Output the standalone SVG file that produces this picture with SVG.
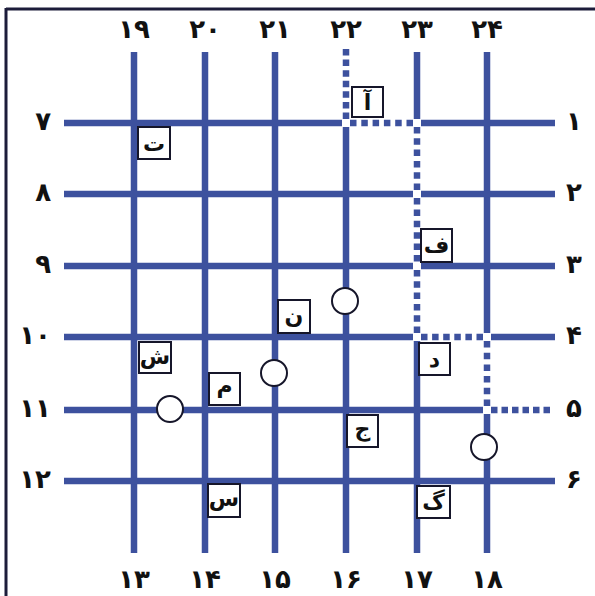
<svg xmlns="http://www.w3.org/2000/svg" width="595" height="596" viewBox="0 0 595 596">
<style>
.g{stroke:#3d519e;stroke-width:6.5;fill:none}
.w{stroke:#ffffff;stroke-width:8;fill:none}
.d{stroke:#3d519e;stroke-width:6.5;fill:none}
.box{fill:#ffffff;stroke:#16162a;stroke-width:2}
.c{fill:#ffffff;stroke:#16162a;stroke-width:2}
.lt{font-family:"DejaVu Sans",sans-serif;font-weight:bold;font-size:22px;fill:#111;text-anchor:middle}
.n{font-family:"DejaVu Sans",sans-serif;font-weight:bold;font-size:26px;fill:#111}
.m{text-anchor:middle}
.e{text-anchor:end}
.s{text-anchor:start}
</style>
<rect width="595" height="596" fill="#ffffff"/>
<g id="frame">
<line x1="6" y1="9" x2="595" y2="9" stroke="#1c1c3a" stroke-width="3"/>
<line x1="6" y1="8" x2="6" y2="596" stroke="#1c1c3a" stroke-width="3"/>
</g>
<g id="connectors">
<line class="g" x1="134" y1="52" x2="134" y2="553"/>
<line class="g" x1="205" y1="52" x2="205" y2="553"/>
<line class="g" x1="275" y1="52" x2="275" y2="553"/>
<line class="g" x1="346" y1="123" x2="346" y2="553"/>
<line class="g" x1="417" y1="52" x2="417" y2="553"/>
<line class="g" x1="487" y1="52" x2="487" y2="553"/>
<line class="g" x1="64" y1="123" x2="555" y2="123"/>
<line class="g" x1="64" y1="194" x2="555" y2="194"/>
<line class="g" x1="64" y1="266" x2="555" y2="266"/>
<line class="g" x1="64" y1="337" x2="555" y2="337"/>
<line class="g" x1="64" y1="410" x2="487" y2="410"/>
<line class="g" x1="64" y1="481" x2="555" y2="481"/>
<line class="w" x1="346" y1="45" x2="346" y2="127"/>
<line class="w" x1="342" y1="123" x2="421" y2="123"/>
<line class="w" x1="417" y1="119" x2="417" y2="341"/>
<line class="w" x1="413" y1="337" x2="491" y2="337"/>
<line class="w" x1="487" y1="333" x2="487" y2="414"/>
<line class="w" x1="483" y1="410" x2="560" y2="410"/>
<line class="d" x1="346" y1="49" x2="346" y2="119" stroke-dasharray="6.5 4.08"/>
<line class="d" x1="350" y1="123" x2="413" y2="123" stroke-dasharray="6.5 4.8"/>
<line class="d" x1="417" y1="127" x2="417" y2="190" stroke-dasharray="6.5 4.8"/>
<line class="d" x1="417" y1="198" x2="417" y2="262" stroke-dasharray="6.5 4.9"/>
<line class="d" x1="417" y1="270" x2="417" y2="333" stroke-dasharray="6.5 4.8"/>
<line class="d" x1="421" y1="337" x2="483" y2="337" stroke-dasharray="6.5 4.6"/>
<line class="d" x1="487" y1="341" x2="487" y2="406" stroke-dasharray="6.5 5.2"/>
<line class="d" x1="491" y1="410" x2="554" y2="410" stroke-dasharray="6.5 4"/>
</g>
<g id="col-labels-top">
<text class="n m" x="134" y="38">۱۹</text>
<text class="n m" x="205" y="38">۲۰</text>
<text class="n m" x="275" y="38">۲۱</text>
<text class="n m" x="346" y="38">۲۲</text>
<text class="n m" x="417" y="38">۲۳</text>
<text class="n m" x="487" y="38">۲۴</text>
</g>
<g id="col-labels-bottom">
<text class="n m" x="134" y="588">۱۳</text>
<text class="n m" x="205" y="588">۱۴</text>
<text class="n m" x="275" y="588">۱۵</text>
<text class="n m" x="346" y="588">۱۶</text>
<text class="n m" x="417" y="588">۱۷</text>
<text class="n m" x="487" y="588">۱۸</text>
</g>
<g id="row-labels-left">
<text class="n e" x="51" y="130">۷</text>
<text class="n e" x="51" y="201">۸</text>
<text class="n e" x="51" y="273">۹</text>
<text class="n e" x="51" y="344">۱۰</text>
<text class="n e" x="51" y="417">۱۱</text>
<text class="n e" x="51" y="488">۱۲</text>
</g>
<g id="row-labels-right">
<text class="n s" x="566" y="130">۱</text>
<text class="n s" x="566" y="201">۲</text>
<text class="n s" x="566" y="273">۳</text>
<text class="n s" x="566" y="344">۴</text>
<text class="n s" x="566" y="417">۵</text>
<text class="n s" x="566" y="488">۶</text>
</g>
<g id="node-alef"><rect class="box" x="352" y="87" width="31" height="30"/><text class="lt" x="367.5" y="110">آ</text></g>
<g id="node-te"><rect class="box" x="138" y="127" width="32" height="32"/><text class="lt" x="154" y="151">ت</text></g>
<g id="node-fe"><rect class="box" x="421" y="229" width="31" height="33"/><text class="lt" x="436.5" y="253">ف</text></g>
<g id="node-dal"><rect class="box" x="419" y="343" width="31" height="32"/><text class="lt" x="434.5" y="367">د</text></g>
<g id="node-nun"><rect class="box" x="278" y="300" width="32" height="33"/><text class="lt" x="294" y="323">ن</text></g>
<g id="node-shin"><rect class="box" x="139" y="342" width="32" height="31"/><text class="lt" x="155" y="364">ش</text></g>
<g id="node-mim"><rect class="box" x="209" y="373" width="31" height="32"/><text class="lt" x="224.5" y="393">م</text></g>
<g id="node-sin"><rect class="box" x="208" y="484" width="32" height="33"/><text class="lt" x="224" y="506">س</text></g>
<g id="node-jim"><rect class="box" x="347" y="415" width="31" height="32"/><text class="lt" x="362.5" y="436">ج</text></g>
<g id="node-gaf"><rect class="box" x="417" y="486" width="33" height="32"/><text class="lt" x="433.5" y="509">گ</text></g>
<g id="circle-1"><circle class="c" cx="345" cy="301" r="13"/></g>
<g id="circle-2"><circle class="c" cx="274" cy="373" r="13"/></g>
<g id="circle-3"><circle class="c" cx="170" cy="409" r="13"/></g>
<g id="circle-4"><circle class="c" cx="484" cy="447" r="13"/></g>
</svg>
